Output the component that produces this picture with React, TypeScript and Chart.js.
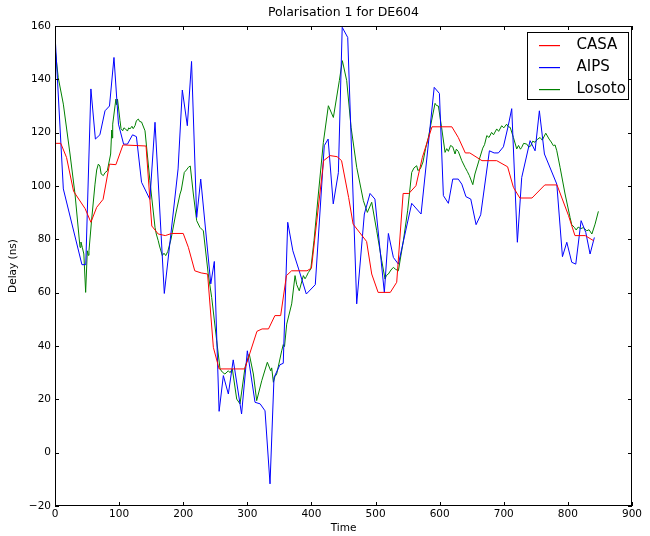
import { useEffect, useRef } from "react";
import { Chart, registerables } from "chart.js";

Chart.register(...registerables);

// [time, delay in ns]
const casaPoints: [number, number][] = [
  [0, 116], [9, 116], [18, 110.7], [29, 98], [47, 91.5], [56, 86.4], [65, 92], [75, 95],
  [85, 108.2], [95, 108], [106, 115.4], [142, 115], [151, 85], [161, 82], [172, 81.4],
  [182, 82.2], [200, 82.2], [208, 77], [218, 68.2], [228, 67.4], [238, 67], [247, 39.5],
  [256, 31.4], [296, 31.4], [315, 45.5], [323, 46.4], [333, 46.4], [343, 51.4], [352, 51.4],
  [361, 66.4], [369, 68.2], [393, 68.2], [400, 69.2], [419, 109.5], [429, 111.4], [440, 111],
  [447, 109.5], [458, 95.7], [465, 85.7], [486, 79.2], [494, 67], [504, 60.1], [523, 60.1],
  [533, 63.9], [543, 97.2], [552, 97.2], [563, 100.1], [573, 110.7], [588, 122.2],
  [619, 122.2], [629, 118.2], [640, 112.4], [647, 112.4], [666, 109.5], [689, 109.5],
  [706, 107.2], [715, 99.5], [725, 95.5], [744, 95.5], [764, 100.4], [783, 100.4],
  [801, 88.9], [811, 81.4], [827, 81.4], [840, 79.5],
];

const aipsPoints: [number, number][] = [
  [0, 157], [13, 98.9], [42, 70.5], [48, 70.5], [56, 136.4], [63, 117.6], [70, 119.2],
  [78, 128.2], [85, 130], [92, 148.2], [99, 123.2], [107, 115.7], [113, 115.7], [121, 119.2],
  [127, 118.5], [135, 101.4], [148, 95], [156, 123.9], [170.5, 59.7], [192, 106.4],
  [198.6, 136], [206.4, 122.6], [213, 146.7], [221, 88.2], [227.3, 102.6], [243, 63.3],
  [248.5, 71.7], [256, 15.5], [262.6, 28.9], [270.4, 22], [278, 34.8], [291, 14.5],
  [300, 38.2], [312, 18.9], [320, 18.3], [327.6, 15.7], [335.4, -11.7], [341.6, 28.2],
  [351, 33], [356, 33.5], [363, 86.4], [371, 75.7], [380, 68.9], [392, 59.5], [406, 63],
  [420, 115.1], [426, 117.6], [434, 93.3], [442, 105], [448, 159.5], [456.6, 155.7],
  [470.6, 55.8], [482.5, 89.5], [491.4, 97.2], [499, 95.1], [513.7, 60.1], [520, 82.2],
  [527.8, 73.2], [535.6, 70.7], [556.4, 93.5], [571, 89.5], [591.5, 137], [599.6, 134.7],
  [605.8, 96.4], [613.6, 93.5], [620.4, 102.6], [629, 102.6], [634.5, 100.7], [641, 96],
  [648.5, 95.1], [656.8, 85.5], [664, 89.2], [677.6, 113.2], [684.9, 112.4], [691.6, 112.4],
  [699.4, 114.7], [707, 122.6], [712.4, 129], [721.2, 78.9], [728, 103.2], [741, 117],
  [748.8, 113.2], [755.5, 128.2], [763.4, 112], [782.7, 100.7], [791.5, 73.5], [798.3, 78.9],
  [806, 71.4], [812.3, 70.7], [820.6, 87], [827.9, 82.6], [834.6, 74.5], [841.3, 80.7],
];

const losotoPoints: [number, number][] = [
  [0, 152], [5, 140.7], [13, 130.7], [23.4, 112], [31.2, 97], [39, 77], [40.5, 79], [42.6, 77],
  [45, 74.5], [47.8, 60.1], [50.4, 75.7], [52, 74], [53, 75.7], [57, 87], [62.4, 100.7],
  [65, 106], [67.6, 108.2], [70, 107.5], [72, 104.5], [75.4, 103.9], [78, 105], [81.6, 105.7],
  [86.8, 112], [88.5, 121], [89.2, 118], [90, 123.2], [95, 132.6], [96, 130.5], [97.5, 132.6],
  [101.4, 124.5], [103, 121.5], [105.6, 120.7], [107.5, 121.8], [110, 121.4], [113, 120.6],
  [115, 121.8], [117, 121.4], [120, 122.4], [122, 121.5], [124.8, 122.6], [127, 124.5],
  [130, 125.1], [132, 124.2], [135, 124], [140.4, 120.7], [148, 102], [156, 84.5],
  [158, 82], [161, 79.5], [163, 77.5], [167.4, 73.9], [170, 74.8], [172.7, 73.9], [176, 75.5],
  [181, 80.1], [188.3, 89.5], [195, 97], [197, 98.5], [201.7, 105.1], [205, 106], [208, 107],
  [211, 107.5], [215.8, 97], [221, 87], [226, 84.5], [231.4, 83.2], [239, 67], [244.4, 58.2],
  [252.2, 42], [257.4, 31.4], [261, 30.2], [265, 29.5], [270.4, 30.7], [273, 30], [276.6, 31.4],
  [283.4, 20.1], [288.6, 18.3], [296.4, 32], [303, 37], [309.4, 29.5], [314.6, 19.5],
  [322.5, 27], [331.2, 33.9], [336.5, 30.7], [338, 31.8], [340.6, 26.4], [343, 28.5],
  [345.8, 29.5], [353.6, 38.2], [356, 40.5], [358, 39.8], [361.4, 48.2], [369.2, 55.8],
  [374.4, 66.4], [377, 63], [381, 60.7], [387.4, 66.4], [390, 65.2], [392, 66], [395, 67.5],
  [399, 68.9], [404, 79.5], [410.8, 97], [418.6, 116.4], [426.4, 130.1], [434.2, 125.7],
  [443.5, 139.5], [448.2, 147], [455, 139.5], [461.8, 122], [470.6, 107], [481, 94.5],
  [487.2, 90.1], [494, 93.9], [501.8, 83.2], [509.6, 72], [514.8, 65.1], [517, 66.5], [520, 67],
  [524, 68.5], [527.8, 69.5], [531, 68.8], [535.6, 68.2], [543.4, 79.5], [550, 90.7],
  [556.4, 105.1], [560, 106.8], [564.2, 107.6], [566, 105.8], [570, 106.5], [574, 109],
  [578, 114], [582.4, 118.2], [587, 124], [592.8, 131], [595, 130.2], [598, 130], [603, 122],
  [608.4, 112.6], [611, 114], [613.6, 113], [617, 115.2], [620.4, 114.7], [624, 112],
  [626, 113.8], [629, 113], [634.5, 109.5], [639.6, 107], [643, 105.5], [646.3, 103.9],
  [651.7, 100.5], [655, 104.5], [662, 110.1], [667.2, 114.2], [670, 115.5], [673.5, 118.9],
  [677, 118.2], [681, 120.1], [684, 119.2], [689, 121.4], [692, 120.5], [696.8, 122.6],
  [700, 121.8], [704.5, 123.2], [707, 122.2], [710, 122], [715, 118.2], [720.2, 113.9],
  [723, 115.2], [726, 113.8], [728, 114.5], [731, 116], [736, 115.7], [739, 114.6], [742, 115],
  [745, 116.8], [748.8, 116.4], [752, 117.4], [756.6, 118.2], [760, 117.2], [765.5, 119.8],
  [770.7, 117.6], [774, 116.5], [777.4, 115.1], [780, 115.4], [782.7, 113.2], [787.8, 107],
  [795.6, 97], [803.4, 88.2], [806, 85.5], [810, 84.5], [813, 83.5], [816, 84.6], [820, 84],
  [824, 84.4], [829.5, 83.2], [833, 83.6], [837.4, 82], [842.4, 85.7], [847.6, 90.5],
];

const seriesNames = ["CASA", "AIPS", "Losoto"];
const seriesColors = ["#ff0000", "#0000ff", "#008000"];
const xTicks = [0, 100, 200, 300, 400, 500, 600, 700, 800, 900];
const yTicks = [-20, 0, 20, 40, 60, 80, 100, 120, 140, 160];

const titleText = "Polarisation 1 for DE604";
const xLabel = "Time";
const yLabel = "Delay (ns)";

const FONT = "'DejaVu Sans', sans-serif";

const fmt = (v: number) => (v < 0 ? "\u2212" + Math.abs(v) : String(v));

// Frame, inward ticks on all sides, labels, title and boxed legend
const decorations = {
  id: "decorations",
  afterDraw(chart: any) {
    const { ctx, chartArea: a, scales } = chart;
    const xs = scales.x;
    const ys = scales.y;
    const tl = 4;
    ctx.save();
    ctx.strokeStyle = "#000";
    ctx.lineWidth = 1;
    ctx.strokeRect(a.left + 0.5, a.top + 0.5, a.right - a.left - 1, a.bottom - a.top - 1);

    ctx.fillStyle = "#000";
    ctx.font = `10.5px ${FONT}`;
    ctx.beginPath();
    xTicks.forEach((t) => {
      const px = Math.round(xs.getPixelForValue(t)) + 0.5;
      ctx.moveTo(px, a.bottom);
      ctx.lineTo(px, a.bottom - tl);
      ctx.moveTo(px, a.top);
      ctx.lineTo(px, a.top + tl);
    });
    yTicks.forEach((t) => {
      const py = Math.round(ys.getPixelForValue(t)) + 0.5;
      ctx.moveTo(a.left, py);
      ctx.lineTo(a.left + tl, py);
      ctx.moveTo(a.right, py);
      ctx.lineTo(a.right - tl, py);
    });
    ctx.stroke();

    ctx.textAlign = "center";
    ctx.textBaseline = "top";
    xTicks.forEach((t) => {
      ctx.fillText(fmt(t), xs.getPixelForValue(t), a.bottom + 3);
    });
    ctx.textAlign = "right";
    ctx.textBaseline = "middle";
    yTicks.forEach((t) => {
      ctx.fillText(fmt(t), a.left - 4, ys.getPixelForValue(t));
    });

    // axis labels
    ctx.textAlign = "center";
    ctx.textBaseline = "middle";
    ctx.fillText(xLabel, (a.left + a.right) / 2, a.bottom + 22);
    ctx.save();
    ctx.translate(13, (a.top + a.bottom) / 2);
    ctx.rotate(-Math.PI / 2);
    ctx.fillText(yLabel, 0, 0);
    ctx.restore();

    // title
    ctx.font = `12.5px ${FONT}`;
    ctx.fillText(titleText, (a.left + a.right) / 2, a.top - 13);

    // legend
    const bx = a.right - 104.5;
    const by = a.top + 6.5;
    const bw = 101;
    const bh = 67;
    ctx.fillStyle = "#fff";
    ctx.fillRect(bx, by, bw, bh);
    ctx.strokeStyle = "#000";
    ctx.strokeRect(bx, by, bw, bh);
    ctx.font = `15px ${FONT}`;
    ctx.textAlign = "left";
    seriesNames.forEach((name, i) => {
      const y = Math.round(by + 12 + i * 22);
      ctx.fillStyle = seriesColors[i];
      ctx.fillRect(Math.round(bx + 11), y, 21, 1.2);
      ctx.fillStyle = "#000";
      ctx.fillText(name, bx + 49, y + 0.5);
    });
    ctx.restore();
  },
};

export default function App() {
  const canvasRef = useRef<HTMLCanvasElement | null>(null);

  useEffect(() => {
    const canvas = canvasRef.current;
    if (!canvas) return;
    const series = [casaPoints, aipsPoints, losotoPoints];
    const chart = new Chart(canvas, {
      type: "line",
      data: {
        datasets: series.map((pts, i) => ({
          label: seriesNames[i],
          data: pts.map(([x, y]) => ({ x, y })),
          borderColor: seriesColors[i],
          backgroundColor: seriesColors[i],
          borderWidth: 1,
          pointRadius: 0,
          tension: 0,
          fill: false,
        })),
      },
      options: {
        responsive: false,
        devicePixelRatio: 1,
        animation: false,
        layout: { padding: { left: 55, right: 18, top: 26, bottom: 30 } },
        scales: {
          x: { type: "linear", min: 0, max: 900, display: false },
          y: { type: "linear", min: -20, max: 160, display: false },
        },
        plugins: {
          legend: { display: false },
          title: { display: false },
          tooltip: { enabled: false },
        },
      },
      plugins: [decorations],
    });
    return () => chart.destroy();
  }, []);

  return (
    <div style={{ position: "fixed", left: 0, top: 0, width: 650, height: 536, background: "#fff" }}>
      <canvas ref={canvasRef} width={650} height={536} />
    </div>
  );
}
